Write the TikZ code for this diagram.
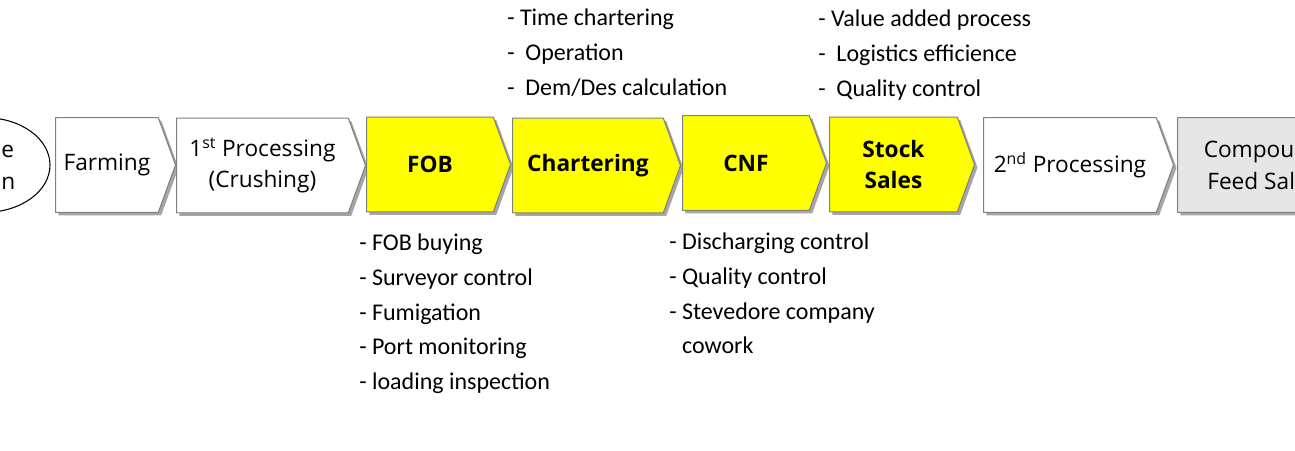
\documentclass[tikz,border=0pt]{standalone}
\usepackage{fontspec}
\setmainfont{Carlito}
\newfontfamily\stagefont{Open Sans}
\usetikzlibrary{shapes.symbols,shapes.geometric,shadows}
\definecolor{keyyellow}{RGB}{255,255,0}
\definecolor{feedgray}{RGB}{230,230,230}

\tikzset{
  stage/.style={signal, signal to=east, signal from=nowhere, signal pointer angle=140,
    anchor=west, draw=black!50, line width=0.8pt, fill=white, minimum height=71pt, inner sep=0pt,
    align=center, font=\stagefont\fontsize{17}{23.5}\selectfont,
    drop shadow={shadow xshift=2.2pt, shadow yshift=-2.2pt, fill=black!35, opacity=1}},
  keystage/.style={stage, fill=keyyellow, font=\stagefont\bfseries\fontsize{17}{23.5}\selectfont},
  notes/.style={align=left, anchor=north west, inner sep=0pt, font=\fontsize{18}{26}\selectfont}
}

\begin{document}
\begin{tikzpicture}[x=0.75pt, y=-0.75pt, line join=round]
\useasboundingbox (0,0) rectangle (1295,450);
% value chain stages
\node[ellipse, draw, line width=0.8pt, minimum width=97.5pt, minimum height=71pt, align=center,
  font=\stagefont\fontsize{17}{23.5}\selectfont] (chain) at (-15,165) {Value\\Chain};
\node[stage, minimum width=90pt] (farm) at (55,165) {Farming};
\node[stage, minimum width=141.75pt] (proc1) at (176,165.5) {1\textsuperscript{st} Processing\\(Crushing)};
\node[keystage, minimum width=108pt] (fob) at (366,164.5) {FOB};
\node[keystage, minimum width=126pt] (charter) at (512,165.5) {Chartering};
\node[keystage, minimum width=108pt] (cnf) at (682,163) {CNF};
\node[keystage, minimum width=108.75pt] (stock) at (829,164.5) {Stock\\Sales};
\node[stage, minimum width=142.5pt] (proc2) at (983,165) {2\textsuperscript{nd} Processing};
\node[stage, fill=feedgray, minimum width=141pt] (feed) at (1177,165) {Compound\\Feed Sales};
% tasks
\node[notes] (fobnotes) at (359,234) {- FOB buying\\- Surveyor control\\- Fumigation\\- Port monitoring\\- loading inspection};
\node[notes] (cnfnotes) at (669,233) {- Discharging control\\- Quality control\\- Stevedore company\\\phantom{- }cowork};
\node[notes] (charternotes) at (507,9) {- Time chartering\\-\ \ Operation\\-\ \ Dem/Des calculation};
\node[notes] (stocknotes) at (818,10) {- Value added process\\-\ \ Logistics efficience\\-\ \ Quality control};
\end{tikzpicture}
\end{document}
